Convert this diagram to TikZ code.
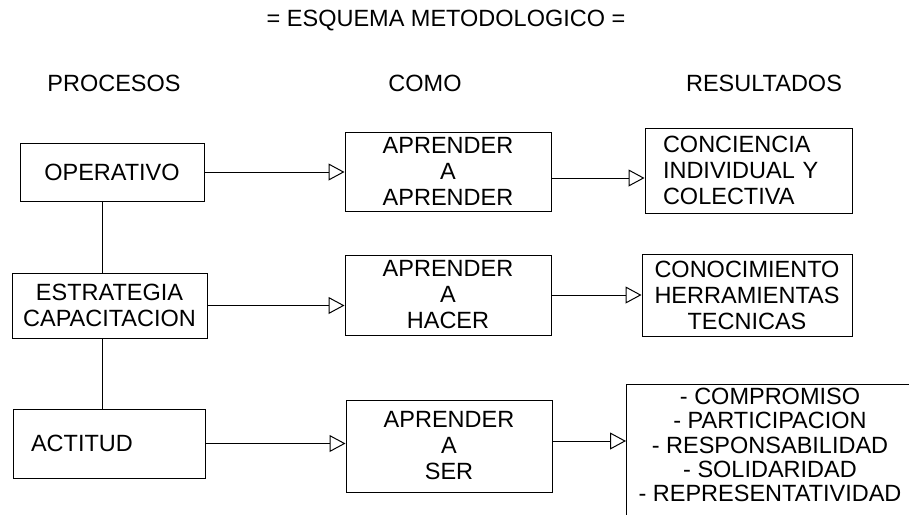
\documentclass[tikz,border=0pt]{standalone}
\usepackage{fontspec}
\setmainfont{Liberation Sans}
\usepackage{tikz}
\usetikzlibrary{arrows.meta}

\begin{document}
\begin{tikzpicture}[x=1pt,y=-1pt,
	linea/.style={line width=1pt},
	caja/.style={draw,linea,inner sep=0pt,align=center,font=\fontsize{23.5}{26}\selectfont},
	texto/.style={inner sep=0pt,align=center,font=\fontsize{23.5}{24.3}\selectfont},
	flecha/.style={linea,-{Triangle[open,length=16pt,width=17pt]}}]
		\useasboundingbox (0,0) rectangle (909,515);
		\node[texto] (titulo) at (446,21) {= ESQUEMA METODOLOGICO =};
		\node[texto] (procesos) at (114,83) {PROCESOS};
		\node[texto] (como) at (425,83) {COMO};
		\node[texto] (resultados) at (764,83) {RESULTADOS};
		\node[caja,minimum width=184pt,minimum height=58pt] (oper) at (112,172) {OPERATIVO};
		\node[caja,minimum width=195pt,minimum height=65pt] (estr) at (109.5,305.5) {ESTRATEGIA\\CAPACITACION};
		\node[caja,minimum width=192pt,minimum height=69pt,text width=156pt,align=left] (acti) at (109,443.5) {ACTITUD};
		\node[caja,minimum width=206pt,minimum height=79pt] (apr1) at (448,171.5) {APRENDER\\A\\APRENDER};
		\node[caja,minimum width=206pt,minimum height=80pt] (apr2) at (448,295) {APRENDER\\A\\HACER};
		\node[caja,minimum width=206pt,minimum height=92pt] (apr3) at (449,446) {APRENDER\\A\\SER};
		\node[caja,minimum width=207pt,minimum height=85pt,text width=171pt,align=left] (conc) at (748.5,170.5) {CONCIENCIA\\INDIVIDUAL Y\\COLECTIVA};
		\node[caja,minimum width=210pt,minimum height=82pt] (cono) at (747,295) {CONOCIMIENTO\\HERRAMIENTAS\\TECNICAS};
		\node[texto] (comp) at (770,445) {- COMPROMISO\\- PARTICIPACION\\- RESPONSABILIDAD\\- SOLIDARIDAD\\- REPRESENTATIVIDAD};
		\draw[linea] (909,384) -| (626,515);
		\coordinate (compw) at (626,441);
		\draw[linea] ([xshift=-10pt]oper.south) -- ([xshift=-10pt]oper.south |- estr.north);
		\draw[linea] ([xshift=-10pt]oper.south |- estr.south) -- ([xshift=-10pt]oper.south |- acti.north);
		\draw[flecha] (oper.east) -- (oper.east -| apr1.west);
		\draw[flecha] (estr.east) -- (estr.east -| apr2.west);
		\draw[flecha] (acti.east) -- (acti.east -| apr3.west);
		\draw[flecha] ([yshift=-6.5pt]apr1.east) -- ([yshift=-6.5pt]apr1.east -| conc.west);
		\draw[flecha] (apr2.east) -- (cono.west);
		\draw[flecha] ([yshift=5pt]apr3.east) -- (compw);
\end{tikzpicture}
\end{document}
